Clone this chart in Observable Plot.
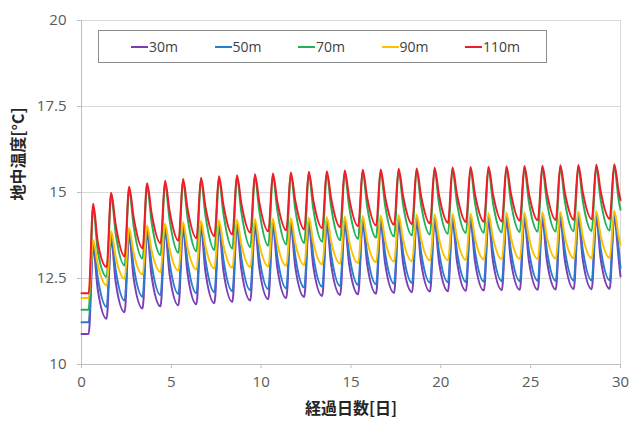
<!DOCTYPE html>
<html>
<head>
<meta charset="utf-8">
<script src="https://cdn.jsdelivr.net/npm/d3@7"></script>
<script src="https://cdn.jsdelivr.net/npm/@observablehq/plot@0.6"></script>
<style>
  body { margin: 0; background: #fff; }
  #wrap { position: relative; width: 631px; height: 421px; font-family: "Open Sans", "Noto Sans CJK JP", sans-serif; }
  #legend { position: absolute; left: 98px; top: 30px; width: 449px; height: 33px; border: 1px solid #8c8c8c; background: #fff; box-sizing: border-box; }
  .item { position: absolute; top: 0; height: 31px; display: flex; align-items: center; font-size: 14px; color: #404040; }
  .swatch { display: inline-block; width: 17px; height: 2px; margin-right: 1px; }
</style>
</head>
<body>
<div id="wrap"></div>
<script>
// ---- data ----
const depths = ["30m", "50m", "70m", "90m", "110m"];
const colors = ["#7b3fb5", "#2a7bd0", "#22b05a", "#ffc000", "#ee1c25"];
const cycleDays = [0,1,2,3,4,5,6,7,8,9,10,11,12,13,14,15,16,17,18,19,20,21,22,23,24,25,26,27,28,29];
// time within each day of the reading (trough before rise, peak, decay point)
const troughPhase = 0.4, peakPhase = 0.65, midPhase = 0.9, lastDay = 30;

const trough30 = [10.89,11.33,11.52,11.63,11.69,11.72,11.75,11.78,11.82,11.86,11.90,11.93,11.96,11.99,12.02,12.04,12.06,12.08,12.10,12.12,12.13,12.14,12.15,12.16,12.17,12.17,12.18,12.19,12.19,12.20];
const peak30   = [13.40,13.65,13.75,13.82,13.88,13.92,13.95,13.97,13.99,14.01,14.02,14.04,14.05,14.07,14.08,14.10,14.11,14.12,14.14,14.15,14.16,14.17,14.18,14.19,14.20,14.21,14.22,14.23,14.24,14.25];
const mid30    = [12.20,12.41,12.52,12.58,12.63,12.66,12.69,12.72,12.75,12.79,12.81,12.83,12.86,12.88,12.90,12.92,12.93,12.95,12.97,12.98,12.99,13.00,13.01,13.02,13.02,13.03,13.04,13.05,13.06,13.06];

const trough50 = [11.23,11.67,11.86,11.97,12.02,12.05,12.07,12.10,12.13,12.16,12.19,12.21,12.24,12.26,12.28,12.31,12.33,12.35,12.37,12.38,12.39,12.40,12.41,12.42,12.42,12.43,12.43,12.44,12.44,12.45];
const peak50   = [13.52,13.77,13.87,13.94,14.00,14.04,14.07,14.09,14.11,14.13,14.14,14.16,14.17,14.19,14.20,14.22,14.23,14.24,14.26,14.27,14.28,14.29,14.30,14.31,14.32,14.33,14.34,14.35,14.36,14.37];
const mid50    = [12.54,12.76,12.86,12.92,12.97,13.00,13.03,13.05,13.08,13.10,13.12,13.14,13.16,13.18,13.20,13.22,13.23,13.25,13.26,13.27,13.28,13.29,13.30,13.31,13.32,13.32,13.33,13.34,13.35,13.36];

const trough70 = [11.59,12.55,12.88,13.08,13.18,13.25,13.29,13.33,13.37,13.41,13.45,13.49,13.53,13.57,13.61,13.65,13.69,13.72,13.75,13.78,13.80,13.82,13.83,13.84,13.85,13.86,13.86,13.87,13.88,13.89];
const peak70   = [14.59,14.91,15.09,15.19,15.26,15.31,15.35,15.39,15.42,15.45,15.47,15.50,15.52,15.54,15.56,15.58,15.59,15.61,15.62,15.64,15.65,15.66,15.67,15.68,15.69,15.70,15.71,15.72,15.73,15.74];
const mid70    = [13.32,13.82,14.03,14.15,14.22,14.28,14.33,14.38,14.42,14.45,14.48,14.51,14.53,14.56,14.58,14.60,14.62,14.64,14.65,14.67,14.69,14.70,14.71,14.72,14.73,14.74,14.75,14.76,14.77,14.78];

const trough90 = [11.93,12.30,12.49,12.62,12.69,12.73,12.76,12.79,12.81,12.83,12.85,12.87,12.89,12.91,12.93,12.95,12.97,12.99,13.00,13.02,13.03,13.04,13.05,13.06,13.07,13.07,13.08,13.09,13.09,13.10];
const peak90   = [13.62,13.87,13.97,14.04,14.10,14.14,14.17,14.19,14.21,14.23,14.24,14.26,14.27,14.29,14.30,14.32,14.33,14.34,14.36,14.37,14.38,14.39,14.40,14.41,14.42,14.43,14.44,14.45,14.46,14.47];
const mid90    = [12.92,13.14,13.25,13.32,13.37,13.41,13.44,13.46,13.48,13.50,13.51,13.53,13.55,13.57,13.58,13.60,13.62,13.63,13.65,13.66,13.67,13.68,13.69,13.70,13.70,13.71,13.72,13.73,13.74,13.72];

const trough110 = [12.07,12.83,13.14,13.38,13.52,13.60,13.67,13.73,13.78,13.83,13.87,13.90,13.93,13.96,13.99,14.02,14.04,14.06,14.08,14.10,14.12,14.14,14.15,14.16,14.18,14.19,14.20,14.21,14.22,14.23];
const peak110   = [14.67,14.99,15.17,15.27,15.34,15.39,15.43,15.47,15.50,15.53,15.55,15.58,15.60,15.62,15.64,15.66,15.67,15.69,15.70,15.72,15.73,15.74,15.75,15.76,15.77,15.78,15.79,15.80,15.81,15.82];
const mid110    = [13.57,14.07,14.28,14.40,14.47,14.53,14.58,14.63,14.67,14.70,14.73,14.76,14.78,14.81,14.83,14.85,14.87,14.89,14.90,14.92,14.94,14.95,14.96,14.97,14.98,14.99,15.00,15.01,15.02,15.03];

const endTemps = [12.56, 12.80, 14.50, 13.48, 14.78];

const yTicks = [10, 12.5, 15, 17.5, 20];
const xTicks = [0, 5, 10, 15, 20, 25, 30];
const xTitle = "経過日数[日]";
const yTitle = "地中温度[°C]";

// ---- build table ----
const seriesTables = [
  [trough30, peak30, mid30],
  [trough50, peak50, mid50],
  [trough70, peak70, mid70],
  [trough90, peak90, mid90],
  [trough110, peak110, mid110]
];
const rows = [];
seriesTables.forEach(([tr, pk, md], i) => {
  const depth = depths[i];
  rows.push({depth, day: 0, temp: tr[0]});
  cycleDays.forEach((d, n) => {
    rows.push({depth, day: d + troughPhase, temp: tr[n]});
    rows.push({depth, day: d + peakPhase, temp: pk[n]});
    rows.push({depth, day: d + midPhase, temp: md[n]});
  });
  rows.push({depth, day: lastDay, temp: endTemps[i]});
});

const chart = Plot.plot({
  width: 631,
  height: 421,
  marginLeft: 81,
  marginRight: 11,
  marginTop: 20,
  marginBottom: 57,
  style: {fontFamily: "'Open Sans', 'Noto Sans CJK JP', sans-serif", fontSize: "15px", background: "#fff"},
  x: {domain: [0, 30]},
  y: {domain: [10, 20]},
  color: {domain: depths, range: colors},
  marks: [
    Plot.gridY(yTicks, {stroke: "#d9d9d9", strokeOpacity: 1}),
    Plot.ruleX([30], {stroke: "#d9d9d9"}),
    Plot.ruleX([0], {stroke: "#bfbfbf"}),
    Plot.ruleY([10], {stroke: "#bfbfbf"}),
    Plot.axisY(yTicks, {tickSize: 4, tickPadding: 11, tickFormat: d => `${d}`, label: null, color: "#595959", stroke: "#bfbfbf"}),
    Plot.axisX(xTicks, {tickSize: 4, tickPadding: 8, tickFormat: d => `${d}`, label: null, color: "#595959", stroke: "#bfbfbf"}),
    Plot.line(rows, {x: "day", y: "temp", stroke: "depth", z: "depth", curve: "monotone-x", strokeWidth: 2}),
    Plot.text([xTitle], {frameAnchor: "bottom", dy: 49, fontSize: 16, fontWeight: "bold", fill: "#262626", fontFamily: "'Noto Sans CJK JP', sans-serif"}),
    Plot.text([yTitle], {frameAnchor: "left", dx: -63, dy: 8, rotate: -90, fontSize: 16, fontWeight: "bold", fill: "#262626", fontFamily: "'Noto Sans CJK JP', sans-serif"})
  ]
});

const wrap = document.getElementById("wrap");
wrap.appendChild(chart);

const legend = document.createElement("div");
legend.id = "legend";
depths.forEach((d, i) => {
  const item = document.createElement("div");
  item.className = "item";
  item.style.left = (32 + i * 83.5) + "px";
  const sw = document.createElement("span");
  sw.className = "swatch";
  sw.style.background = colors[i];
  item.appendChild(sw);
  item.appendChild(document.createTextNode(d));
  legend.appendChild(item);
});
wrap.appendChild(legend);
</script>
</body>
</html>
